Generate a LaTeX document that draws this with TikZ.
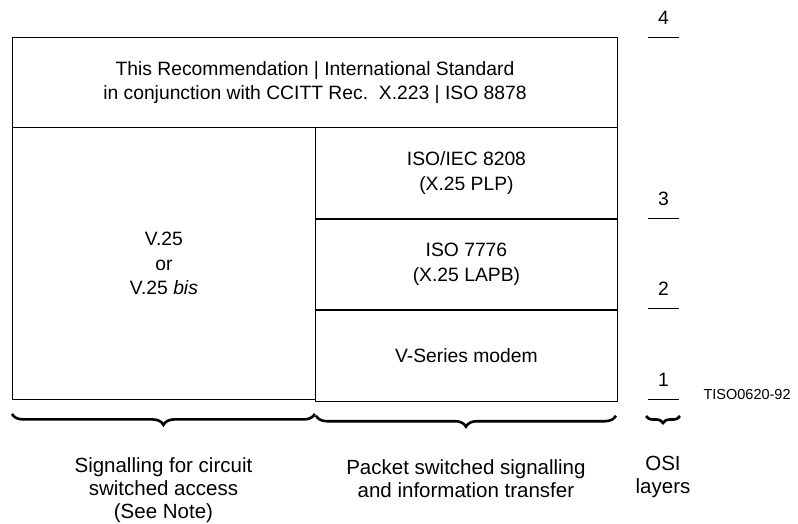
\documentclass[tikz,border=0pt]{standalone}
\usepackage{fontspec}
\setmainfont{Liberation Sans}
\usepackage{tikz}
\usetikzlibrary{positioning,decorations.pathreplacing}
\tikzset{
  layer/.style  = {draw, rectangle, anchor=north west, inner sep=0pt, align=center,
                   line width=0.9pt},
  caption/.style = {align=center, anchor=north, font=\fontsize{20.5}{23}\selectfont},
  ositick/.style = {line width=0.9pt},
  grp/.style    = {decorate, decoration={brace, mirror, amplitude=11pt}, line width=2.6pt}
}

\begin{document}
\begin{tikzpicture}[x=1pt, y=-1pt, font=\fontsize{19.3}{24.5}\selectfont]
\useasboundingbox (0,0) rectangle (798,524);

% upper layer box
\node[layer, minimum width=605pt, minimum height=90pt] (upper) at (12,37)
  {This Recommendation | International Standard\\in conjunction with CCITT Rec.\ \ X.223 | ISO 8878};
% circuit switched side
\node[layer, minimum width=303pt, minimum height=272pt] (circ) at (12,127)
  {V.25\\or\\V.25 \textit{bis}};
% packet switched side, one box per layer
\node[layer, minimum width=302pt, minimum height=91pt] (plp) at (315,127)
  {ISO/IEC 8208\\(X.25 PLP)};
\node[layer, minimum width=302pt, minimum height=90pt, below=0pt of plp.south west, anchor=north west] (lapb)
  {ISO 7776\\(X.25 LAPB)};
\node[layer, minimum width=302pt, minimum height=91pt, below=0pt of lapb.south west, anchor=north west] (modem)
  {V-Series modem};

% OSI layer boundaries
\foreach \n/\y in {4/37, 3/218, 2/308, 1/399} {
  \coordinate (t\n a) at (648,\y);
  \coordinate (t\n b) at (679,\y);
  \draw[ositick] (t\n a) -- (t\n b) node[midway, above=9pt] (num\n) {\n};
}
\node[anchor=base west, font=\fontsize{14.5}{17}\selectfont] (fig) at (700,399) {TISO0620-92};

% braces
\draw[grp] ([yshift=-14pt]circ.south west) -- ([yshift=-14pt,xshift=-1pt]circ.south east) coordinate[midway] (bc);
\draw[grp] ([yshift=-14pt,xshift=1pt]modem.south west) -- ([yshift=-14pt,xshift=-2pt]modem.south east) coordinate[midway] (bp);
\draw[grp, decoration={brace, mirror, amplitude=7pt}] ([yshift=-17pt,xshift=-2pt]t1a) -- ([yshift=-17pt,xshift=1pt]t1b) coordinate[midway] (bo);

% group captions
\node[caption, below=40pt of bc] (capc) {Signalling for circuit\\switched access\\(See Note)};
\node[caption, below=40pt of bp] (capp) {Packet switched signalling\\and information transfer};
\node[caption, below=37pt of bo] (capo) {OSI\\layers};
\end{tikzpicture}
\end{document}
